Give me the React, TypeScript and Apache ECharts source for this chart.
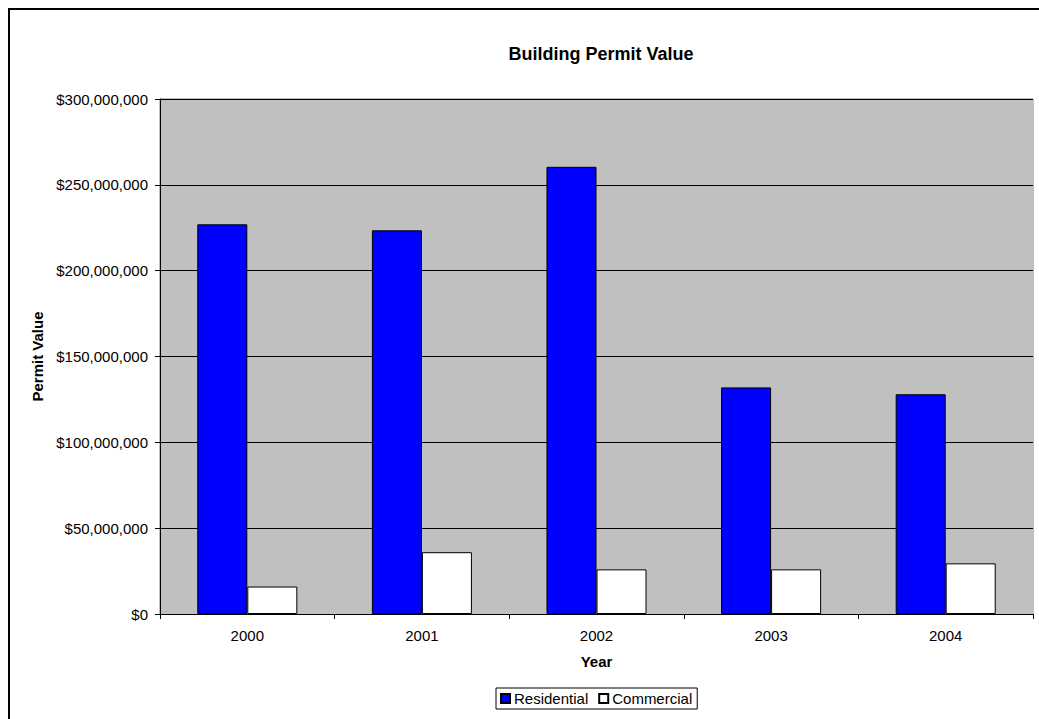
import React, { useEffect, useRef } from "react";
import * as echarts from "echarts";

const years = ["2000", "2001", "2002", "2003", "2004"];
const residential = [227000000, 223500000, 260500000, 132000000, 128000000];
const commercial = [16000000, 36000000, 26000000, 26000000, 29500000];

const FONT = "Liberation Sans, Arial, sans-serif";

function fmt(v: number): string {
  return "$" + Math.round(v).toLocaleString("en-US");
}

export default function App() {
  const ref = useRef<HTMLDivElement>(null);
  useEffect(() => {
    if (!ref.current) return;
    const chart = echarts.init(ref.current, null, { renderer: "svg" });
    chart.setOption({
      animation: false,
      backgroundColor: "#ffffff",
      textStyle: { fontFamily: FONT },
      title: {
        text: "Building Permit Value",
        left: 596,
        top: 40,
        textAlign: "center",
        textStyle: { fontFamily: FONT, fontSize: 18, fontWeight: "bold", color: "#000" },
      },
      graphic: [
        {
          type: "rect",
          shape: { x: 9, y: 9, width: 1100, height: 800 },
          style: { fill: "none", stroke: "#000", lineWidth: 2 },
          silent: true,
        },
        {
          type: "rect",
          shape: { x: 160, y: 99, width: 873, height: 515 },
          style: { fill: "none", stroke: "#808080", lineWidth: 1 },
          z: -1,
          silent: true,
        },
      ],
      legend: {
        left: 496,
        top: 688,
        orient: "horizontal",
        itemWidth: 9,
        itemHeight: 9,
        itemGap: 10,
        padding: [3, 5, 3, 4],
        borderColor: "#000",
        borderWidth: 1,
        borderRadius: 0,
        icon: "rect",
        textStyle: { fontFamily: FONT, fontSize: 15, color: "#000", padding: [0, 0, 0, -1] },
        data: ["Residential", "Commercial"],
      },
      grid: {
        left: 160,
        top: 99,
        width: 873,
        height: 515,
        show: true,
        backgroundColor: "#C0C0C0",
        borderWidth: 0,
      },
      xAxis: {
        type: "category",
        data: years,
        name: "Year",
        nameLocation: "middle",
        nameGap: 40,
        nameTextStyle: { fontFamily: FONT, fontSize: 15, fontWeight: "bold", color: "#000" },
        axisLine: { lineStyle: { color: "#000", width: 1 } },
        axisTick: { show: true, inside: false, length: 5, alignWithLabel: false, lineStyle: { color: "#000" } },
        axisLabel: { fontFamily: FONT, fontSize: 15, color: "#000", margin: 14 },
      },
      yAxis: {
        type: "value",
        min: 0,
        max: 300000000,
        interval: 50000000,
        name: "Permit Value",
        nameLocation: "middle",
        nameGap: 112,
        nameRotate: 90,
        nameTextStyle: { fontFamily: FONT, fontSize: 15, fontWeight: "bold", color: "#000" },
        axisLine: { show: true, lineStyle: { color: "#000", width: 1 } },
        axisTick: { show: true, length: 5, lineStyle: { color: "#000" } },
        axisLabel: { fontFamily: FONT, fontSize: 15, color: "#000", margin: 12, formatter: (v: number) => fmt(v) },
        splitLine: { show: true, lineStyle: { color: "#000", width: 1 } },
      },
      series: [
        {
          name: "Residential",
          type: "bar",
          data: residential,
          barGap: "0%",
          barCategoryGap: "42.7%",
          itemStyle: { color: "#0000FF", borderColor: "#000", borderWidth: 1 },
        },
        {
          name: "Commercial",
          type: "bar",
          data: commercial,
          barGap: "0%",
          barCategoryGap: "42.7%",
          itemStyle: { color: "#FFFFFF", borderColor: "#000", borderWidth: 1 },
        },
      ],
    });
    return () => chart.dispose();
  }, []);
  return (
    <div
      ref={ref}
      style={{ position: "fixed", left: 0, top: 0, width: 1039, height: 719 }}
    />
  );
}
